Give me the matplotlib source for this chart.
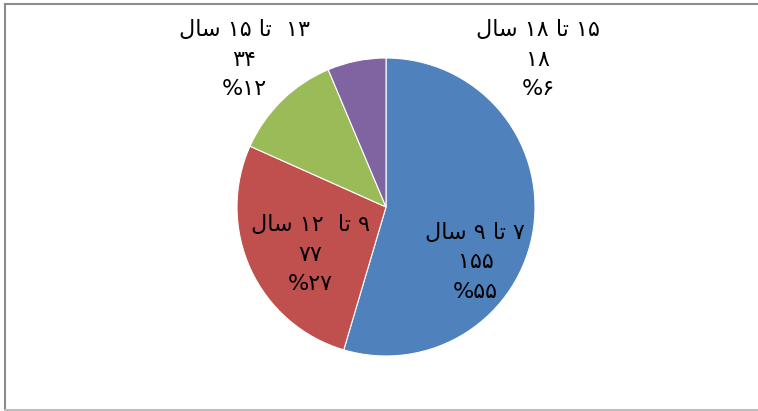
import matplotlib.pyplot as plt
from matplotlib.lines import Line2D

# Age groups (Persian, logical order), counts and colours
categories = ['۷ تا ۹ سال', '۹ تا  ۱۲ سال', '۱۳  تا ۱۵ سال', '۱۵ تا ۱۸ سال']
values = [155, 77, 34, 18]
colors = ['#4F81BD', '#C0504D', '#9BBB59', '#8064A2']

# matplotlib has no Arabic shaping / bidi, so give the words in visual form
shapes = {'تا': '\ufe8e\ufe97', 'سال': '\ufedd\ufe8e\ufeb3'}
fa_digits = str.maketrans('0123456789', '۰۱۲۳۴۵۶۷۸۹')


def visual(s):
    return ' '.join(shapes.get(w, w) for w in reversed(s.split(' ')))


plt.rcParams['font.family'] = ['DejaVu Sans']

fig = plt.figure(figsize=(7.58, 4.11), dpi=100)
ax = fig.add_axes([0.3127, 0.1338, 0.3931, 0.7251])
wedges, _ = ax.pie(values, colors=colors, startangle=90, counterclock=False,
                   wedgeprops=dict(edgecolor='white', linewidth=0.8))
ax.set_xlim(-1, 1)
ax.set_ylim(-1, 1)

# label centres (pie radius units)
label_pos = [(0.6, -0.37), (-0.51, -0.32), (-0.95, 0.99), (1.02, 0.99)]
total = sum(values)
for cat, v, (x, y) in zip(categories, values, label_pos):
    pct = round(100 * v / total)
    txt = visual(cat) + '\n' + str(v).translate(fa_digits) + '\n%' + str(pct).translate(fa_digits)
    ax.text(x, y, txt, ha='center', va='center', fontsize=16,
            linespacing=1.6, clip_on=False)

# chart frame (top, left, bottom; right edge is cut off)
fig.add_artist(Line2D([5 / 758, 1], [1 - 4 / 411, 1 - 4 / 411], transform=fig.transFigure,
                      color='#8c8c8c', lw=1.5))
fig.add_artist(Line2D([5 / 758, 5 / 758], [1 / 411, 1 - 4 / 411], transform=fig.transFigure,
                      color='#8c8c8c', lw=1.5))
fig.add_artist(Line2D([5 / 758, 1], [1 / 411, 1 / 411], transform=fig.transFigure,
                      color='#bdbdbd', lw=1.5))

fig.savefig('out.png', dpi=100)
